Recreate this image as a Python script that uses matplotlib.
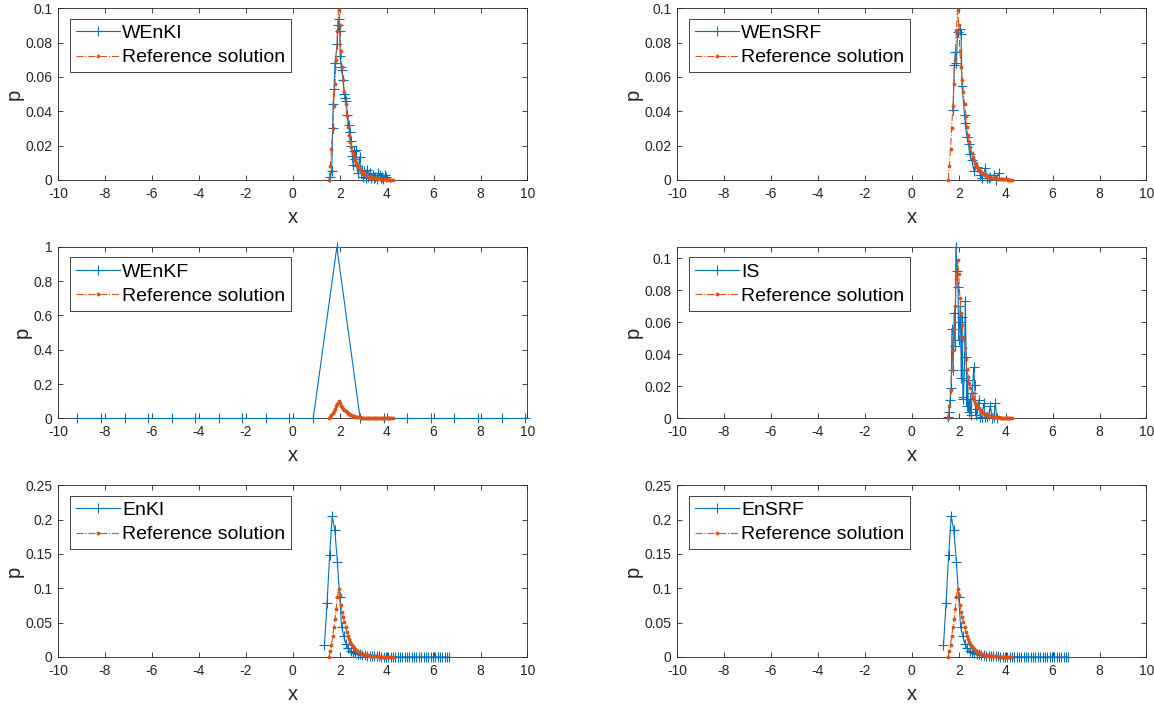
import numpy as np
import matplotlib
matplotlib.use('Agg')
import matplotlib.pyplot as plt
import matplotlib as mpl
from matplotlib.ticker import FormatStrFormatter

mpl.rcParams['font.family'] = ['Liberation Sans', 'DejaVu Sans']
mpl.rcParams['font.size'] = 10
mpl.rcParams['axes.unicode_minus'] = False
mpl.rcParams['xtick.top'] = True
mpl.rcParams['ytick.right'] = True
mpl.rcParams['xtick.direction'] = 'in'
mpl.rcParams['ytick.direction'] = 'in'

# reference solution (same in every panel)
ref_x = [1.55, 1.60, 1.65, 1.70, 1.75, 1.80, 1.85, 1.90, 1.95, 2.00,
         2.05, 2.10, 2.15, 2.20, 2.25, 2.30, 2.35, 2.40, 2.45, 2.50,
         2.55, 2.60, 2.65, 2.70, 2.75, 2.80, 2.85, 2.90, 2.95, 3.00,
         3.05, 3.10, 3.15, 3.20, 3.25, 3.30, 3.35, 3.40, 3.45, 3.50,
         3.55, 3.60, 3.65, 3.70, 3.75, 3.80, 3.85, 3.90, 3.95, 4.00,
         4.05, 4.10, 4.15, 4.20, 4.25]
ref_p = [0.000, 0.008, 0.018, 0.030, 0.043, 0.056, 0.070, 0.087, 0.099, 0.090,
         0.075, 0.066, 0.058, 0.051, 0.044, 0.037, 0.031, 0.026, 0.022, 0.019,
         0.016, 0.0135, 0.0115, 0.0098, 0.0085, 0.0073, 0.0063, 0.0054, 0.0046, 0.0040,
         0.0035, 0.0030, 0.0027, 0.0023, 0.0020, 0.0018, 0.0016, 0.0014, 0.0012, 0.0011,
         0.0010, 0.0009, 0.0008, 0.0007, 0.0006, 0.0005, 0.0005, 0.0004, 0.0004, 0.0003,
         0.0003, 0.0002, 0.0002, 0.0002, 0.0001]

wenki_x = [1.60, 1.66, 1.70, 1.72, 1.76, 1.80, 1.89, 1.93, 1.97, 2.00,
           2.02, 2.06, 2.09, 2.14, 2.20, 2.24, 2.28, 2.33, 2.38, 2.43,
           2.46, 2.50, 2.54, 2.57, 2.60, 2.64, 2.68, 2.72, 2.78, 2.85,
           2.90, 2.95, 3.00, 3.05, 3.10, 3.16, 3.21, 3.27, 3.32, 3.40,
           3.46, 3.52, 3.58, 3.64, 3.70, 3.75, 3.80, 3.86, 3.93, 3.99]
wenki_p = [0.002, 0.005, 0.030, 0.044, 0.053, 0.068, 0.079, 0.090, 0.094, 0.087,
           0.072, 0.066, 0.064, 0.058, 0.050, 0.048, 0.046, 0.038, 0.032, 0.028,
           0.023, 0.020, 0.014, 0.009, 0.017, 0.012, 0.0174, 0.008, 0.004, 0.0136,
           0.004, 0.006, 0.002, 0.005, 0.001, 0.006, 0.002, 0.004, 0.001, 0.003,
           0.001, 0.002, 0.0005, 0.004, 0.003, 0.001, 0.002, 0.0005, 0.003, 0.002]

wensrf_x = [1.76, 1.81, 1.855, 1.90, 1.95, 2.04, 2.10, 2.14, 2.25, 2.28,
            2.35, 2.42, 2.46, 2.56, 2.66, 2.78, 2.92, 3.00, 3.13, 3.20,
            3.27, 3.35, 3.49, 3.60, 3.70]
wensrf_p = [0.041, 0.067, 0.0746, 0.068, 0.086, 0.088, 0.085, 0.0547, 0.038, 0.033,
            0.025, 0.021, 0.015, 0.0116, 0.005, 0.0078, 0.003, 0.001, 0.0068, 0.001,
            0.001, 0.002, 0.003, 0.0, 0.0039]

wenkf_x = [-9.2, -8.15, -7.15, -6.15, -5.15, -4.15, -3.15, -2.15, -1.15, -0.15,
           0.87, 1.88, 2.87, 3.87, 4.87, 5.88, 6.88, 7.88, 8.9, 9.9]
wenkf_p = [0, 0, 0, 0, 0, 0, 0, 0, 0, 0,
           0, 1.0, 0, 0, 0, 0, 0, 0, 0, 0]

is_x = [1.53, 1.58, 1.64, 1.68, 1.71, 1.76, 1.81, 1.85, 1.88, 1.93,
        1.97, 2.00, 2.04, 2.07, 2.11, 2.14, 2.18, 2.20, 2.24, 2.28,
        2.32, 2.35, 2.38, 2.42, 2.47, 2.52, 2.58, 2.64, 2.68, 2.72,
        2.78, 2.85, 2.92, 2.99, 3.06, 3.13, 3.20, 3.27, 3.35, 3.42,
        3.49, 3.56, 3.62]
is_p = [0.001, 0.004, 0.0115, 0.019, 0.056, 0.030, 0.066, 0.045, 0.107, 0.092,
        0.082, 0.049, 0.060, 0.070, 0.025, 0.0635, 0.0136, 0.012, 0.030, 0.073,
        0.0386, 0.008, 0.024, 0.004, 0.012, 0.002, 0.016, 0.032, 0.021, 0.002,
        0.006, 0.0115, 0.001, 0.001, 0.0095, 0.001, 0.001, 0.002, 0.008, 0.0,
        0.001, 0.0095, 0.0]

enki_x = [1.35, 1.46, 1.57, 1.68, 1.79, 1.90, 2.00, 2.08, 2.17, 2.27,
          2.37, 2.47, 2.57, 2.67, 2.77, 2.87, 2.97, 3.07, 3.17, 3.27,
          3.37, 3.47, 3.57, 3.67, 3.77, 3.87, 3.97, 4.07, 4.17, 4.27,
          4.37, 4.47, 4.57, 4.67, 4.77, 4.87, 4.97, 5.07, 5.17, 5.27,
          5.37, 5.47, 5.57, 5.67, 5.77, 5.87, 5.97, 6.07, 6.17, 6.27,
          6.37, 6.47, 6.57, 6.67]
enki_p = [0.017, 0.078, 0.148, 0.205, 0.185, 0.139, 0.087, 0.044, 0.030, 0.019,
          0.0126, 0.009, 0.007, 0.0055, 0.0045, 0.0037, 0.003, 0.0025, 0.002, 0.0017,
          0.0014, 0.0012, 0.001, 0.0008, 0.0007, 0.0006, 0.0005, 0.0004, 0.0004, 0.0003,
          0.0003, 0.0002, 0.0002, 0.0002, 0.0001, 0.0001, 0.0001, 0.0001, 0.0, 0.0,
          0.0, 0.0, 0.0, 0.0, 0.0, 0.0, 0.0, 0.0, 0.0, 0.0,
          0.0, 0.0, 0.0, 0.0]

# EnSRF came out the same as EnKI
ensrf_x = enki_x
ensrf_p = enki_p

panels = [
    ('WEnKI', wenki_x, wenki_p, 0.1, [0, 0.02, 0.04, 0.06, 0.08, 0.1]),
    ('WEnSRF', wensrf_x, wensrf_p, 0.1, [0, 0.02, 0.04, 0.06, 0.08, 0.1]),
    ('WEnKF', wenkf_x, wenkf_p, 1.0, [0, 0.2, 0.4, 0.6, 0.8, 1]),
    ('IS', is_x, is_p, 0.107, [0, 0.02, 0.04, 0.06, 0.08, 0.1]),
    ('EnKI', enki_x, enki_p, 0.25, [0, 0.05, 0.1, 0.15, 0.2, 0.25]),
    ('EnSRF', ensrf_x, ensrf_p, 0.25, [0, 0.05, 0.1, 0.15, 0.2, 0.25]),
]

blue = '#0072BD'
orange = '#D95319'
gray = '#262626'

fig = plt.figure(figsize=(11.54, 7.05), dpi=100)
lefts = [0.0503, 0.5867]
bottoms = [0.7447, 0.4064, 0.0681]
width = 0.4068
height = 0.2435

for i, (name, x, p, ytop, yt) in enumerate(panels):
    ax = fig.add_axes([lefts[i % 2], bottoms[i // 2], width, height])
    ax.plot(x, p, color=blue, lw=0.8, marker='+', ms=7.5, mew=0.8, label=name,
            clip_on=False, zorder=3)
    ax.plot(ref_x, ref_p, color=orange, lw=0.8, ls='-.', marker='.', ms=3.5,
            label='Reference solution', clip_on=False, zorder=4)
    ax.set_xlim(-10, 10)
    ax.set_ylim(0, ytop)
    ax.set_xticks(range(-10, 11, 2))
    ax.set_yticks(yt)
    ax.yaxis.set_major_formatter(FormatStrFormatter('%g'))
    ax.tick_params(colors=gray, labelsize=10, length=3.5, width=0.6)
    ax.tick_params(axis='x', pad=5)
    ax.tick_params(axis='y', pad=4)
    for s in ax.spines.values():
        s.set_color(gray)
        s.set_linewidth(0.6)
    ax.set_xlabel('x', fontsize=14.5, color=gray, labelpad=5)
    ax.set_ylabel('p', fontsize=14.5, color=gray, labelpad=1)
    leg = ax.legend(loc='upper left', bbox_to_anchor=(0.025, 0.94),
                    borderaxespad=0, fontsize=14, fancybox=False,
                    framealpha=1, handlelength=2.3, handletextpad=0.1,
                    borderpad=0.3, labelspacing=0.35)
    leg.get_frame().set_edgecolor(gray)
    leg.get_frame().set_linewidth(0.6)

plt.savefig('out.png', dpi=100)
